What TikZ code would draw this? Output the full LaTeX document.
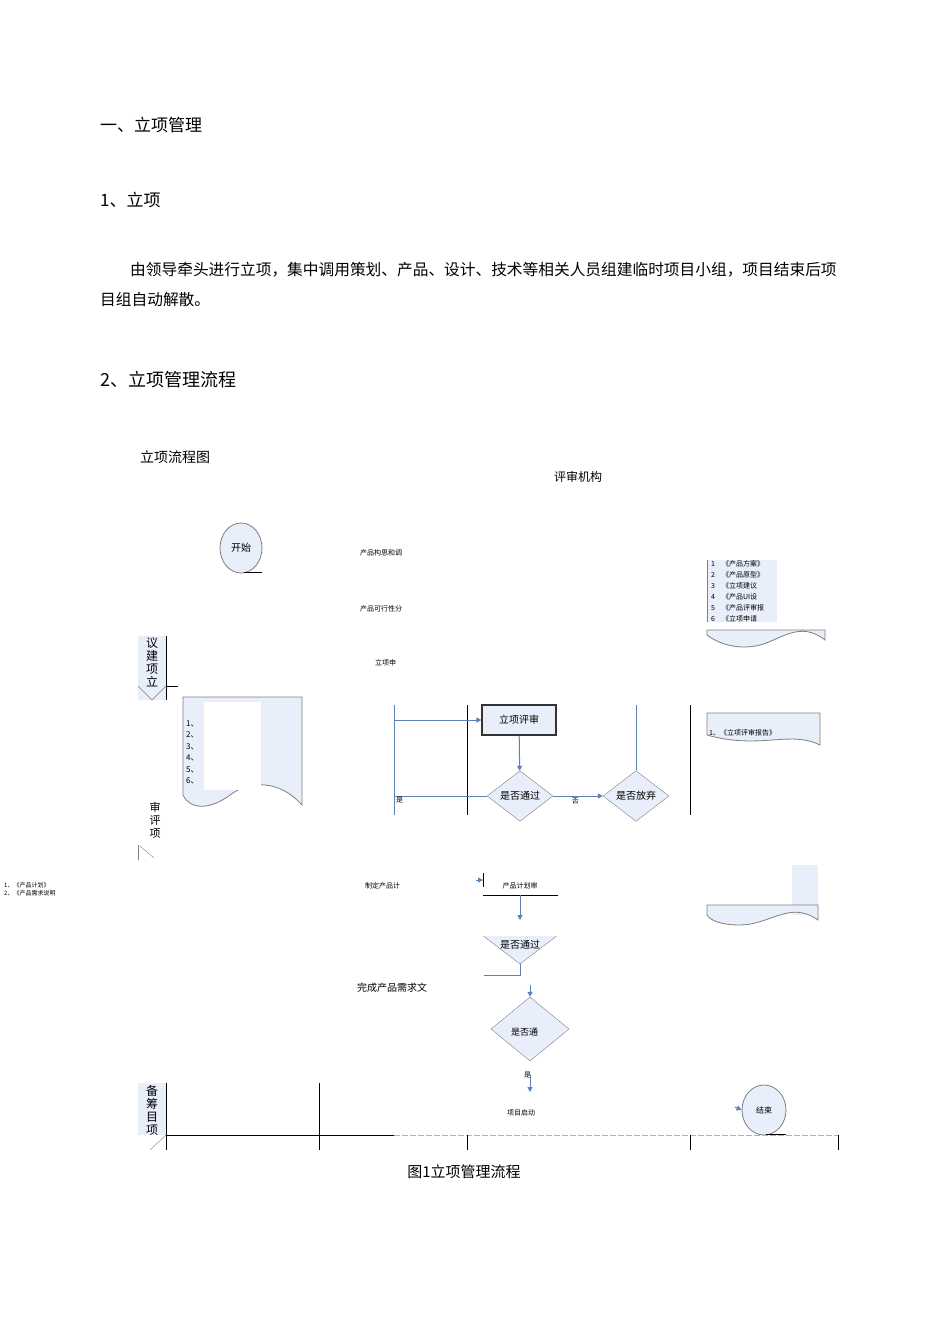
\documentclass[tikz,border=0pt]{standalone}
\usepackage{fontspec}
\setmainfont{Noto Sans CJK SC}
\usetikzlibrary{shapes.geometric,arrows.meta}
\definecolor{fillb}{RGB}{232,238,250}
\definecolor{lineb}{RGB}{90,130,180}
\tikzset{x=1pt,y=-1pt,
 fl/.style={draw=gray,fill=fillb,line width=0.8pt},
 dia/.style={diamond,aspect=1.3,draw=gray,fill=fillb,inner sep=3pt,font=\fontsize{10}{12}\selectfont},
 arr/.style={draw=lineb,line width=1pt,-{Triangle[length=5pt,width=5pt]}},
 ln/.style={draw=lineb,line width=1pt},
 lane/.style={draw=black,line width=0.8pt},
 sm/.style={font=\fontsize{7}{8}\selectfont,inner sep=0pt,anchor=west},
 txt/.style={font=\fontsize{10}{12}\selectfont,inner sep=0pt}}
\begin{document}
\begin{tikzpicture}
\useasboundingbox (0,0) rectangle (950,1344);
\fill[white] (0,0) rectangle (950,1344);
\node[anchor=west,inner sep=0pt,font=\fontsize{17}{20}\selectfont] (h1) at (100,125) {一、立项管理};
\node[anchor=west,inner sep=0pt,font=\fontsize{17}{20}\selectfont] (h2) at (100,200) {1、立项};
\node[anchor=west,inner sep=0pt,font=\fontsize{15.7}{20}\selectfont] (p1) at (130,270) {由领导牵头进行立项，集中调用策划、产品、设计、技术等相关人员组建临时项目小组，项目结束后项};
\node[anchor=west,inner sep=0pt,font=\fontsize{15.7}{20}\selectfont] (p2) at (100,300) {目组自动解散。};
\node[anchor=west,inner sep=0pt,font=\fontsize{18}{20}\selectfont] (h3) at (100,380) {2、立项管理流程};
\node[anchor=west,inner sep=0pt,font=\fontsize{14}{16}\selectfont] (cap0) at (140,457) {立项流程图};
\node[txt,font=\fontsize{12}{14}\selectfont] (org) at (578,477) {评审机构};
% start
\node[ellipse,fl,minimum width=42pt,minimum height=50pt,txt,draw=gray] (start) at (241,548) {开始};
\draw[line width=1pt] (244,572) -- (262,572);
% partial texts
\node[sm] (t1) at (360,553) {产品构思和调};
\node[sm] (t2) at (360,609) {产品可行性分};
\node[sm] (t3) at (375,663) {立项申};
% lane label 1
\fill[fillb] (138,636) rectangle (166,700);
\draw[black,line width=0.8pt] (166,636) -- (166,700);
\draw[black] (166,686) -- (178,686);
\node[txt,font=\fontsize{12}{13}\selectfont,align=center] (l1) at (152,662) {议\\建\\项\\立};
\draw[gray] (138,686) -- (152,700) -- (166,686);
% doc left
\draw[fl] (183,697) -- (302,697) -- (302,805) .. controls (280,780) and (250,780) .. (230,795) .. controls (210,810) and (190,810) .. (183,795) -- cycle;
\fill[white] (204,702) rectangle (261,790);
\foreach \i in {1,...,6}{\node[sm,font=\fontsize{8}{9}\selectfont] (n\i) at (186,712+11.5*\i) {\i、};}
% right doc list
\fill[fillb] (707,560) rectangle (777,622);
\draw[gray] (707,560) -- (707,622);
\node[sm,align=left,font=\fontsize{7}{11}\selectfont,anchor=north west] (rl) at (711,560) {1\quad《产品方案》\\2\quad《产品原型》\\3\quad《立项建议\\4\quad《产品UI设\\5\quad《产品评审报\\6\quad《立项申请};
\draw[fl] (707,630) -- (825,630) -- (825,640) .. controls (800,620) and (780,640) .. (760,645) .. controls (740,650) and (720,645) .. (707,635) -- cycle;
% lanes middle
\draw[lane] (467,705) -- (467,815);
\draw[lane] (690,705) -- (690,815);
\draw[ln] (394,705) -- (394,815);
\node[rectangle,fl,draw=black!80,line width=1.2pt,minimum width=74pt,minimum height=30pt,txt] (rev) at (519,720) {立项评审};
\draw[arr] (394,705) |- (rev.west);
\node[dia] (pass1) at (520,796) {是否通过};
\node[dia] (aband) at (636,796) {是否放弃};
\draw[arr] (rev) -- (pass1);
\draw[arr] (pass1) -- node[below,txt,font=\fontsize{7}{8}\selectfont,pos=0.45,yshift=-2pt]{否} (aband);
\draw[ln] (aband.north) -- (636,705);
\draw[ln] (pass1.west) -- (394,796);
\node[sm] (yes1) at (396,800) {是};
% right doc review report
\draw[fl] (707,713) -- (820,713) -- (820,745) .. controls (790,730) and (760,750) .. (707,735) -- cycle;
\node[sm] (rr) at (709,733) {1、《立项评审报告》};
% lane label 2
\node[txt,font=\fontsize{11}{13}\selectfont,align=center] (l2) at (155,820) {审\\评\\项};
\draw[gray] (138,845) -- (138,860); \draw[gray] (140,846) -- (154,858);
% left list
\node[sm,align=left,anchor=north west,font=\fontsize{6}{8}\selectfont] (ll) at (4,882) {1、《产品计划》\\2、《产品需求说明};
\node[sm] (t4) at (365,886) {制定产品计};
\node[txt,font=\fontsize{7}{8}\selectfont] (plan) at (520,886) {产品计划审};
\draw[line width=1pt] (483,895) -- (558,895);
\coordinate (pin) at (483,880);
\draw[arr] (476,880) -- (pin);
\draw[line width=1pt] (483,873) -- (483,887);
\node[dia,minimum width=76pt,minimum height=58pt] (pass2) at (520,935) {};
\fill[white] (470,900) rectangle (570,936);
\node[txt] (p2l) at (520,945) {是否通过};
\draw[arr] (520,895) -- (520,920);
\draw[ln] (pass2.south) -- (520,975) -- (484,975);
% right doc 3
\fill[fillb] (792,865) rectangle (818,915);
\draw[fl] (707,905) -- (818,905) -- (818,920) .. controls (790,900) and (770,925) .. (740,925) .. controls (720,925) and (710,920) .. (707,915) -- cycle;
\node[txt] (t5) at (392,988) {完成产品需求文};
\node[dia,minimum width=78pt,minimum height=64pt] (pass3) at (530,1029) {};
\node[sm,font=\fontsize{9}{10}\selectfont] (p3l) at (511,1032) {是否通};
\draw[arr] (530,985) -- (pass3.north);
\node[sm,font=\fontsize{7}{8}\selectfont] (yes2) at (524,1075) {是};
\draw[arr] (530,1075) -- (530,1092);
\node[sm] (t6) at (507,1113) {项目启动};
% end
\node[ellipse,fl,minimum width=44pt,minimum height=50pt,txt,font=\fontsize{8}{9}\selectfont] (end) at (764,1110) {结束};
\draw[arr] (735,1107) -- (end.west);
\draw[line width=1pt] (766,1134) -- (786,1134);
% bottom lanes
\fill[fillb] (138,1083) rectangle (166,1135);
\draw[black,line width=0.8pt] (166,1083) -- (166,1150);
\node[txt,font=\fontsize{12}{13}\selectfont,align=center] (l3) at (152,1110) {备\\筹\\目\\项};
\draw[gray] (150,1150) -- (166,1135);
\draw[lane] (166,1135) -- (394,1135);
\draw[gray!60,dash pattern=on 6pt off 2pt] (394,1135) -- (838,1135);
\draw[lane] (319,1083) -- (319,1150);
\draw[lane] (467,1135) -- (467,1150);
\draw[lane] (690,1135) -- (690,1150);
\draw[lane] (838,1135) -- (838,1150);
\node[font=\fontsize{15}{16}\selectfont,inner sep=0pt] (fig) at (464,1172) {图1立项管理流程};
\end{tikzpicture}
\end{document}
